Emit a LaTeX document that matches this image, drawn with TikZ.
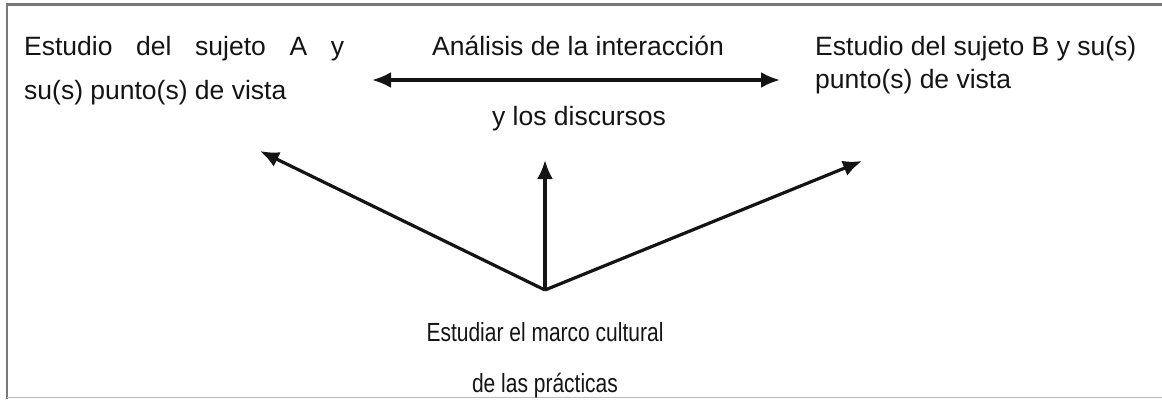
\documentclass[tikz,border=0pt]{standalone}
\usepackage{fontspec}
\setmainfont{Liberation Sans}
\usetikzlibrary{arrows.meta}
\definecolor{ink}{RGB}{20,20,20}
\definecolor{framegray}{RGB}{120,120,120}
\definecolor{lightframe}{RGB}{185,185,185}
\tikzset{
  lbl/.style={inner sep=0pt, text=ink, font=\fontsize{26.5}{30}\selectfont},
  lblsmall/.style={inner sep=0pt, text=ink, font=\fontsize{21}{25}\selectfont},
  tip/.style={Latex[length=19pt,width=16pt]},
  conn/.style={line width=3.2pt, draw=ink, -{Latex[length=19pt,width=16pt]}},
  dconn/.style={line width=3.2pt, draw=ink, {Latex[length=19pt,width=16pt]}-{Latex[length=19pt,width=16pt]}}
}
\begin{document}
\begin{tikzpicture}[x=1pt,y=-1pt]
\useasboundingbox (0,0) rectangle (1162,399);
% frame
\draw[framegray, line width=2.8pt] (7,399) -- (7,4.5) -- (1162,4.5);
\draw[lightframe, line width=1.5pt] (7,397.5) -- (1162,397.5);
% left text
\node[lbl, anchor=base west] (a1) at (24,55) {\makebox[320pt][s]{Estudio del sujeto A y}};
\node[lbl, anchor=base west] (a2) at (24,99) {su(s) punto(s) de vista};
% centre text
\node[lbl, anchor=base] (c1) at (578,55) {Análisis de la interacción};
\node[lbl, anchor=base] (c2) at (579,125) {y los discursos};
% right text
\node[lbl, anchor=base west] (b1) at (815,55) {Estudio del sujeto B y su(s)};
\node[lbl, anchor=base west] (b2) at (815,88) {punto(s) de vista};
% bottom text
\node[lblsmall, anchor=base] (d1) at (545,341) {\scalebox{1}[1.25]{Estudiar el marco cultural}};
\node[lblsmall, anchor=base] (d2) at (545,392) {\scalebox{1}[1.25]{de las prácticas}};
% connector points
\coordinate (apex) at (545,290);
\coordinate (tA) at (260,151);
\coordinate (tM) at (545,160);
\coordinate (tB) at (862,161);
\coordinate (hL) at (372,80);
\coordinate (hR) at (780,80);
\draw[dconn] (hL) -- (hR);
\draw[conn] (apex) -- (tA);
\draw[conn] (apex) -- (tM);
\draw[conn] (apex) -- (tB);
\end{tikzpicture}
\end{document}
